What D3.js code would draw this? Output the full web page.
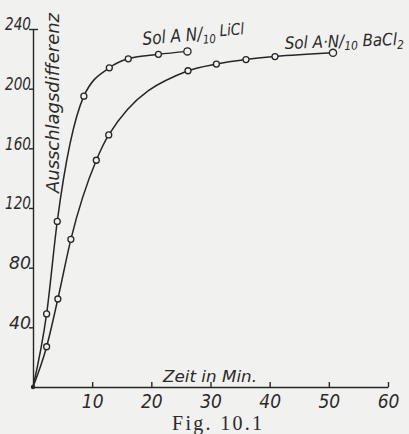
<!DOCTYPE html>
<html>
<head>
<meta charset="utf-8">
<script src="https://cdn.jsdelivr.net/npm/d3@7"></script>
<style>
    html, body { margin: 0; padding: 0; background: #f1f1ef; }
    svg { display: block; }
    .hand { font-family: "DejaVu Sans Condensed", "Liberation Sans Narrow", "DejaVu Sans", sans-serif; font-style: italic; fill: #2b2b2b; }
    .caption { font-family: "Liberation Serif", "DejaVu Serif", serif; fill: #2b2b2b; }
</style>
</head>
<body>
<script>
// Sol A + N/10 LiCl
const liclMinutes = [0, 2.3, 4.1, 8.6, 12.9, 16.1, 21.2, 26.1];
const liclValues = [0, 49, 111, 195, 214, 220, 223, 225];

// Sol A + N/10 BaCl2
const baclMinutes = [0, 2.3, 4.2, 6.4, 10.7, 12.8, 26.2, 31, 36, 40.9, 50.7];
const baclValues = [0, 27, 59, 99, 152, 169, 212, 216.5, 219.5, 221.5, 224];

const xTicks = [10, 20, 30, 40, 50, 60];
const yTicks = [40, 80, 120, 160, 200, 240];

const WIDTH = 409;
const HEIGHT = 434;
const INK = "#262626";

const svg = d3.select("body")
    .append("svg")
    .attr("width", WIDTH)
    .attr("height", HEIGHT);

const x = d3.scaleLinear()
    .domain([0, 60])
    .range([33, 388]);

const y = d3.scaleLinear()
    .domain([0, 240])
    .range([387, 29]);

/**
 * Draws the hand-lettered axes of the figure.
 */
const renderAxes = () => {
    const xAxis = svg.append("g")
        .attr("transform", `translate(0,${ y(0) })`)
        .call(d3.axisBottom(x)
            .tickValues(xTicks)
            .tickSizeInner(-5)
            .tickSizeOuter(0)
            .tickPadding(8));

    xAxis.selectAll("text")
        .attr("class", "hand")
        .attr("font-size", 19)
        .attr("dy", "0.71em");

    const yAxis = svg.append("g")
        .attr("transform", `translate(${ x(0) },0)`)
        .call(d3.axisLeft(y)
            .tickValues(yTicks)
            .tickSizeInner(4)
            .tickSizeOuter(0)
            .tickPadding(-2));

    yAxis.selectAll("text")
        .attr("class", "hand")
        .attr("font-size", 18)
        .attr("dy", "0.05em")
        .attr("textLength", d => d >= 100 ? 26 : 22)
        .attr("lengthAdjust", "spacingAndGlyphs");

    // the top tick crosses the axis
    yAxis.selectAll(".tick")
        .filter(d => d === 240)
        .select("line")
        .attr("x2", 5)
        .attr("x1", -4);

    svg.selectAll(".domain, .tick line")
        .attr("stroke", INK)
        .attr("stroke-width", 1.4);

    svg.selectAll(".tick text")
        .attr("fill", INK)
        .attr("font-family", null);
};

/**
 * Draws one measured series as a smooth curve with open circles.
 */
const renderSeries = (minutes, values, endRadius) => {
    const points = minutes.map((m, i) => [m, values[i]]);

    const line = d3.line()
        .x(d => x(d[0]))
        .y(d => y(d[1]))
        .curve(d3.curveMonotoneX);

    svg.append("path")
        .datum(points)
        .attr("fill", "none")
        .attr("stroke", INK)
        .attr("stroke-width", 1.5)
        .attr("d", line);

    svg.append("g")
        .selectAll("circle")
        .data(points.slice(1))
        .enter()
        .append("circle")
        .attr("cx", d => x(d[0]))
        .attr("cy", d => y(d[1]))
        .attr("r", (d, i, nodes) => i === nodes.length - 1 ? endRadius : 3)
        .attr("fill", "#f1f1ef")
        .attr("stroke", INK)
        .attr("stroke-width", 1.3);
};

renderAxes();
renderSeries(liclMinutes, liclValues, 3.6);
renderSeries(baclMinutes, baclValues, 3.6);

// dot at the origin
svg.append("circle")
    .attr("cx", x(0))
    .attr("cy", y(0))
    .attr("r", 2.2)
    .attr("fill", INK);

// series labels
const liclLabel = svg.append("text")
    .attr("class", "hand")
    .attr("x", 143)
    .attr("y", 45)
    .attr("font-size", 18)
    .attr("textLength", 102)
    .attr("lengthAdjust", "spacingAndGlyphs")
    .attr("transform", "rotate(-5 143 45)");
liclLabel.append("tspan").text("Sol A N/");
liclLabel.append("tspan").attr("font-size", 12).attr("dy", 4).text("10");
liclLabel.append("tspan").attr("font-size", 16).attr("dy", -6).text(" LiCl");

const baclLabel = svg.append("text")
    .attr("class", "hand")
    .attr("x", 285)
    .attr("y", 49)
    .attr("font-size", 17)
    .attr("textLength", 119)
    .attr("lengthAdjust", "spacingAndGlyphs")
    .attr("transform", "rotate(-2 285 49)");
baclLabel.append("tspan").text("Sol A·N/");
baclLabel.append("tspan").attr("font-size", 12).attr("dy", 3).text("10");
baclLabel.append("tspan").attr("dy", -3).text(" BaCl");
baclLabel.append("tspan").attr("font-size", 12).attr("dy", 4).text("2");

// axis titles
svg.append("text")
    .attr("class", "hand")
    .attr("transform", "translate(59,103) rotate(-90)")
    .attr("text-anchor", "middle")
    .attr("font-size", 18)
    .attr("textLength", 180)
    .attr("lengthAdjust", "spacingAndGlyphs")
    .text("Ausschlagsdifferenz");

svg.append("text")
    .attr("class", "hand")
    .attr("x", 163)
    .attr("y", 382)
    .attr("font-size", 16)
    .attr("textLength", 94)
    .attr("lengthAdjust", "spacingAndGlyphs")
    .text("Zeit in Min.");

svg.append("text")
    .attr("class", "caption")
    .attr("x", 172)
    .attr("y", 430)
    .attr("font-size", 20)
    .attr("textLength", 90)
    .attr("lengthAdjust", "spacing")
    .text("Fig. 10.1");
</script>
</body>
</html>
